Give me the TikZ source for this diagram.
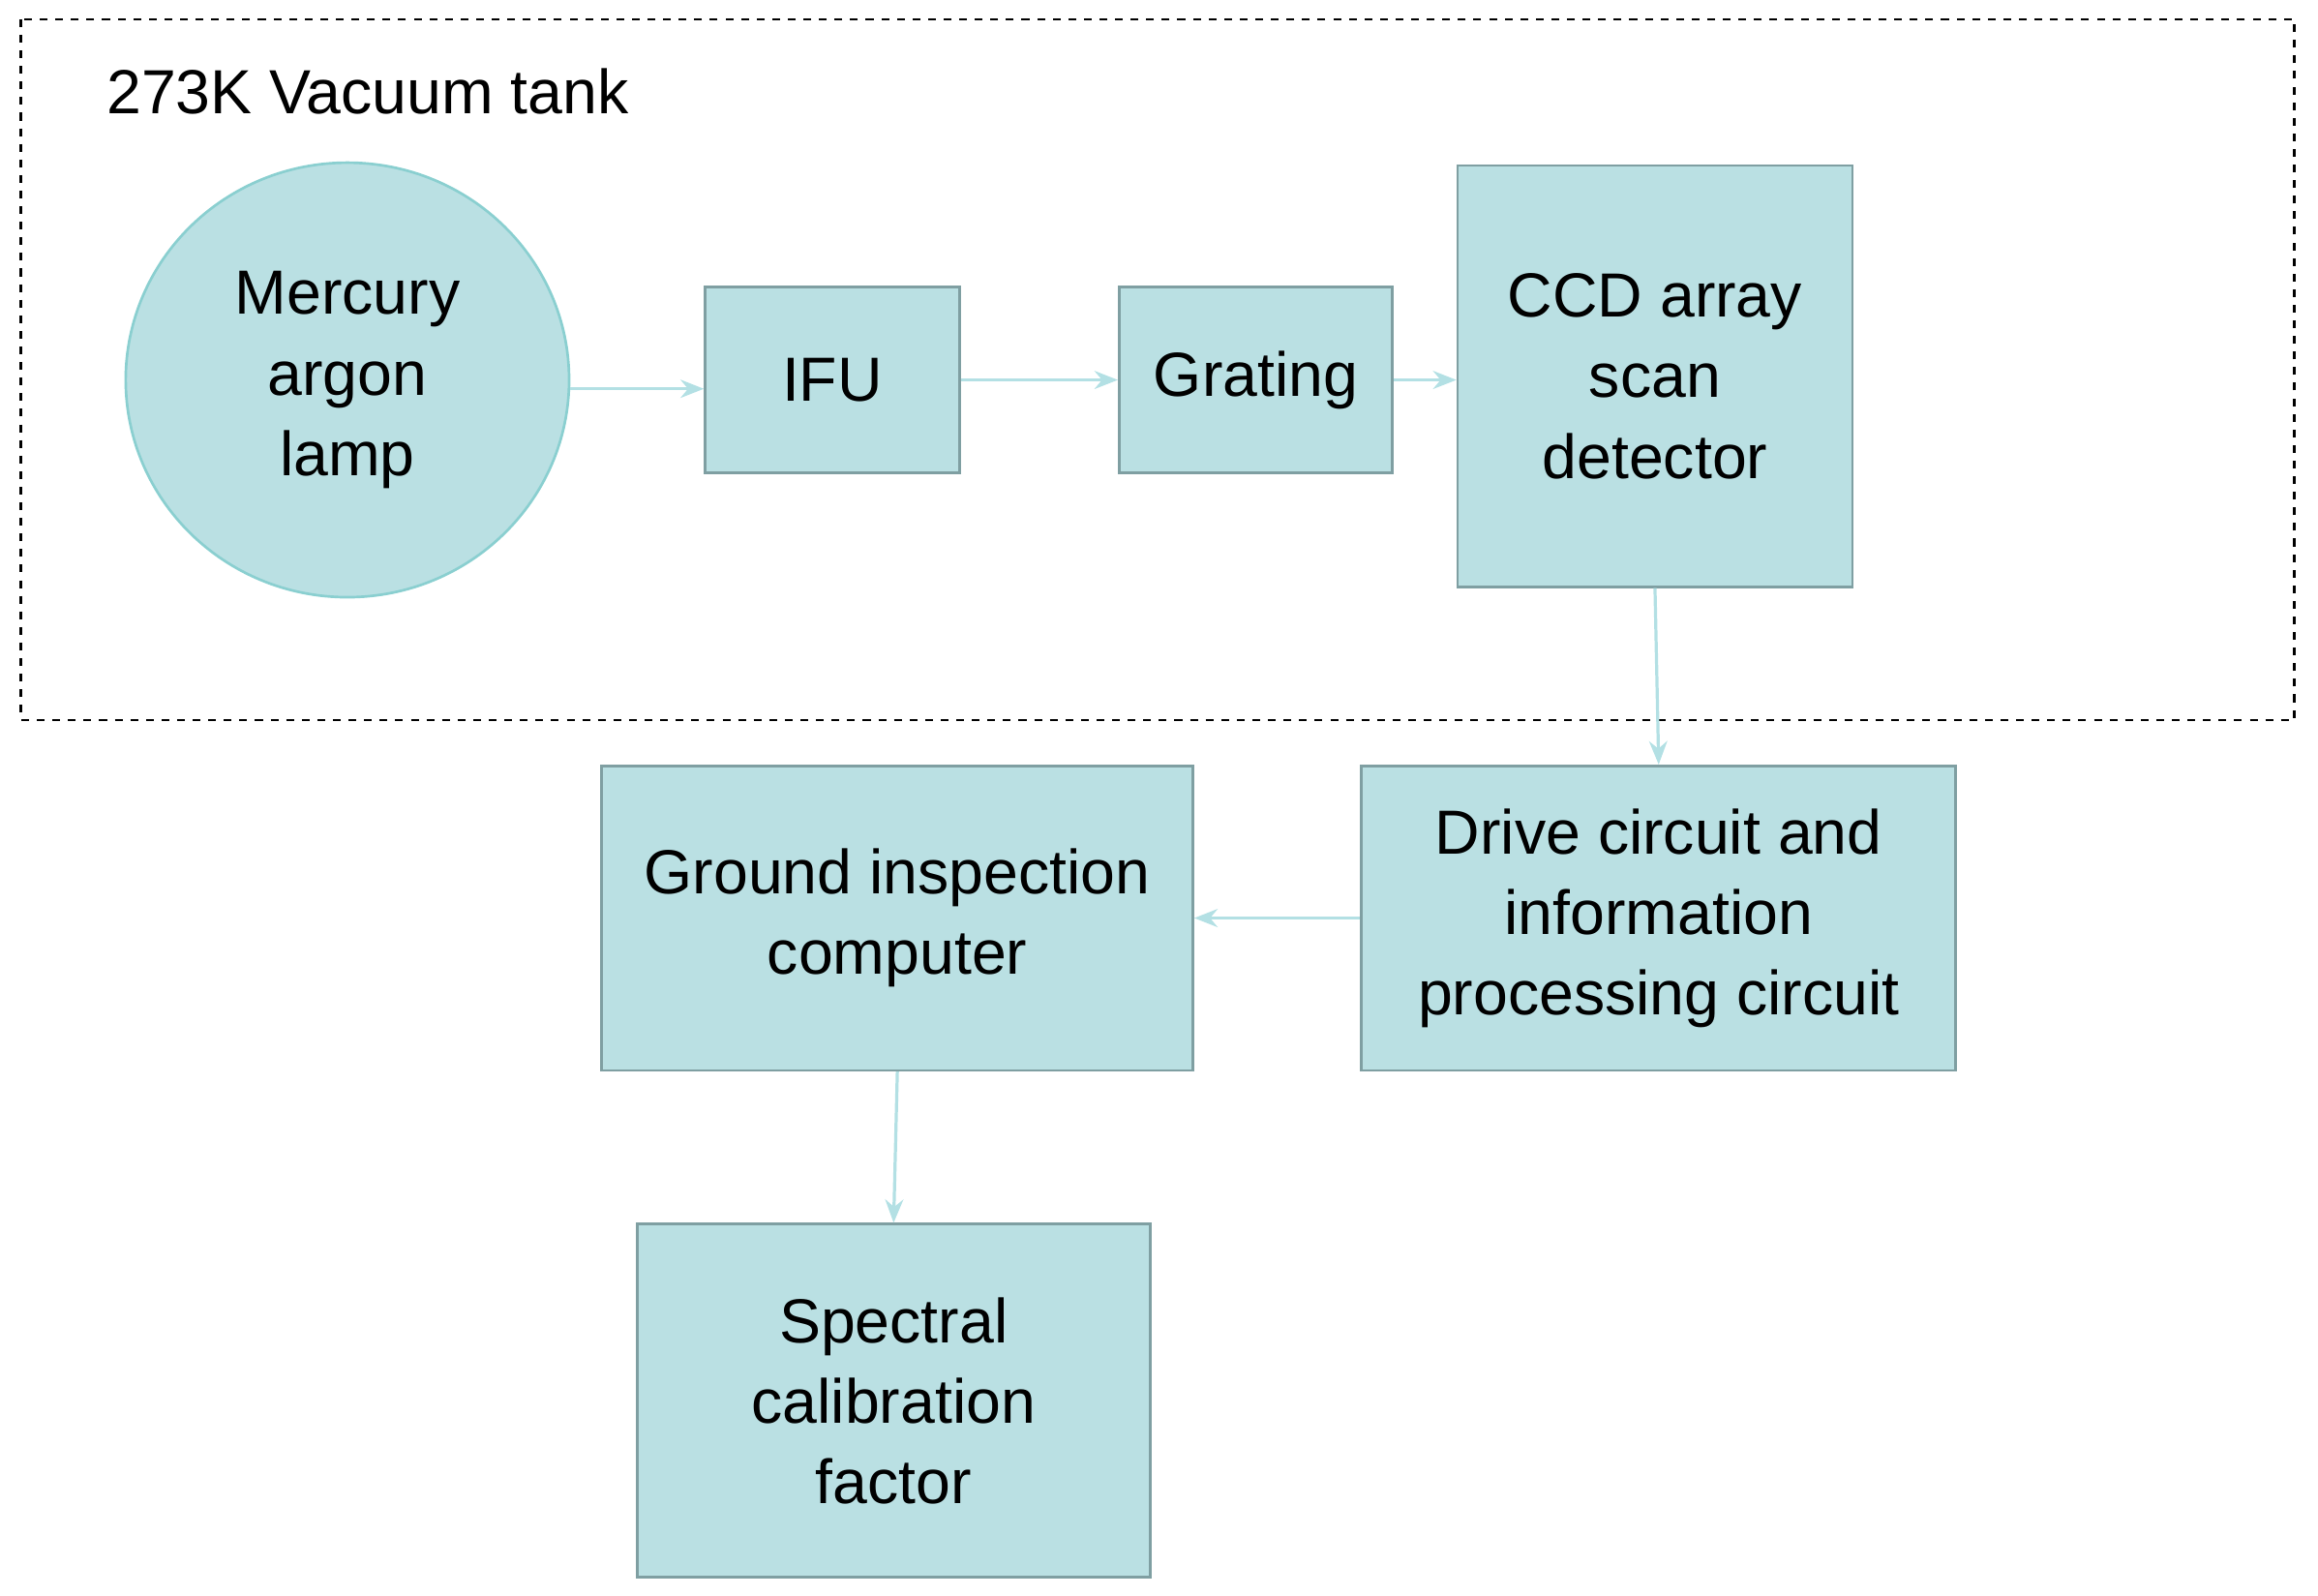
\documentclass[tikz,border=0pt]{standalone}
\usepackage{fontspec}
\setmainfont{Liberation Sans}
\usetikzlibrary{arrows.meta,shapes.geometric}
\definecolor{boxfill}{HTML}{BAE0E3}
\definecolor{boxdraw}{HTML}{7F9FA2}
\definecolor{circdraw}{HTML}{8ACFD0}
\definecolor{arr}{HTML}{B3E0E4}
\begin{document}
\begin{tikzpicture}[x=0.02cm,y=-0.02cm,
  box/.style={draw=boxdraw,fill=boxfill,line width=1pt,align=center,font=\fontsize{24}{31}\selectfont,inner sep=0pt},
  con/.style={draw=arr,line width=1.2pt,-{Stealth[length=9pt,width=7pt]}}]
\useasboundingbox (0,0) rectangle (1568,1079);
\draw[dashed,line width=1pt] (14,13) rectangle (1552,487);
\node[anchor=west,font=\fontsize{24}{30}\selectfont] (title) at (66,62) {273K Vacuum tank};
\node[box,draw=circdraw,ellipse,minimum width=6cm,minimum height=5.88cm] (lamp) at (235,257) {Mercury\\argon\\lamp};
\node[box,minimum width=3.44cm,minimum height=2.52cm] (ifu) at (563,257) {IFU};
\node[box,minimum width=3.7cm,minimum height=2.52cm] (grat) at (849.5,257) {Grating};
\node[box,minimum width=5.34cm,minimum height=5.7cm] (ccd) at (1119.5,254.5) {CCD array\\scan\\detector};
\node[box,minimum width=8.04cm,minimum height=4.12cm] (drive) at (1122,621) {Drive circuit and\\information\\processing circuit};
\node[box,minimum width=8cm,minimum height=4.12cm] (ground) at (607,621) {Ground inspection\\computer};
\node[box,minimum width=6.94cm,minimum height=4.78cm] (spec) at (604.5,947.5) {Spectral\\calibration\\factor};
\draw[con] (lamp.east) ++(0,6) -- (ifu.west|-0,263);
\draw[con] (ifu.east) -- (grat.west);
\draw[con] (grat.east) -- (ccd.west|-grat.east);
\draw[con] (ccd.south) -- (drive.north);
\draw[con] (drive.west) -- (ground.east);
\draw[con] (ground.south) -- (spec.north);
\end{tikzpicture}
\end{document}
